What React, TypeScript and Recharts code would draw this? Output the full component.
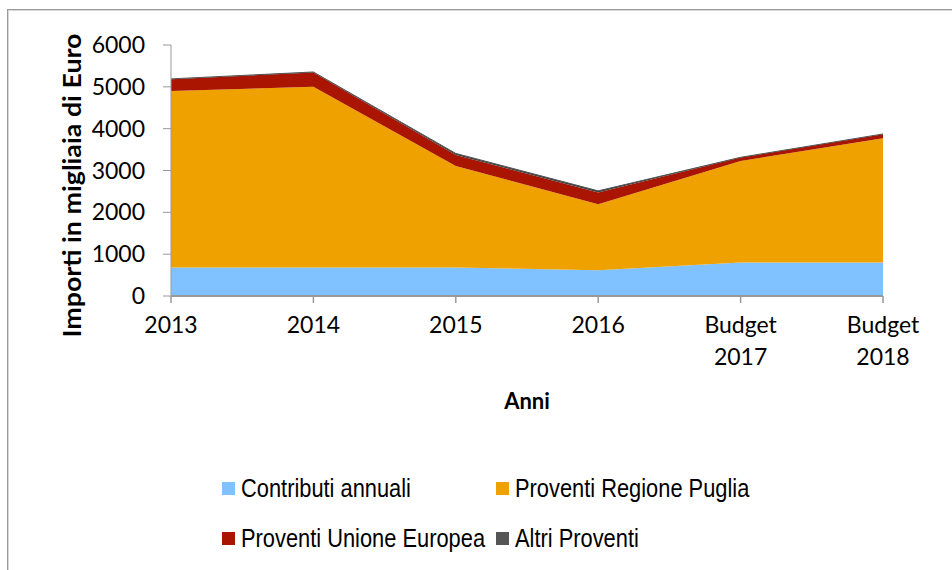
import React from 'react';
import { AreaChart, Area, XAxis, YAxis, Legend } from 'recharts';

const categories = ['2013', '2014', '2015', '2016', 'Budget 2017', 'Budget 2018'];
const contributiAnnuali = [680, 680, 680, 615, 800, 800];
const proventiRegionePuglia = [4220, 4320, 2430, 1580, 2430, 2973];
const proventiUnioneEuropea = [280, 345, 263, 280, 80, 95];
const altriProventi = [10, 10, 35, 38, 5, 5];
const yTicks = [0, 1000, 2000, 3000, 4000, 5000, 6000];

const seriesDefs = [
  { key: 'contributi', name: 'Contributi annuali', color: '#80C1FF' },
  { key: 'regione', name: 'Proventi Regione Puglia', color: '#EFA100' },
  { key: 'ue', name: 'Proventi Unione Europea', color: '#A91500' },
  { key: 'altri', name: 'Altri Proventi', color: '#404040' },
];

const data = categories.map((c, i) => ({
  name: c,
  contributi: contributiAnnuali[i],
  regione: proventiRegionePuglia[i],
  ue: proventiUnioneEuropea[i],
  altri: altriProventi[i],
}));

const AXIS_FONT = "Lato, 'Open Sans', sans-serif";
const LEGEND_FONT = "'Liberation Sans', Arial, sans-serif";

const XTick = (props: any) => {
  const { x, y, payload } = props;
  const parts = String(payload.value).split(' ');
  return (
    <g transform={`translate(${x},${y})`}>
      {parts.map((p: string, i: number) => (
        <text key={i} x={0} y={28 + i * 32} textAnchor="middle" fill="#000" fontFamily={AXIS_FONT} fontSize={23}>
          {p}
        </text>
      ))}
    </g>
  );
};

const YLabel = (props: any) => {
  const { viewBox } = props;
  const cx = viewBox.x + 71;
  const cy = viewBox.y + viewBox.height / 2 + 15;
  return (
    <text x={cx} y={cy} transform={`rotate(-90 ${cx} ${cy})`} textAnchor="middle" dominantBaseline="central"
      fontFamily={AXIS_FONT} fontWeight="bold" fontSize={24} fill="#000" textLength={304} lengthAdjust="spacingAndGlyphs">
      Importi in migliaia di Euro
    </text>
  );
};

const LegendContent = (props: any) => {
  const payload = [...(props.payload || [])].sort(
    (a: any, b: any) =>
      seriesDefs.findIndex((s) => s.key === a.dataKey) - seriesDefs.findIndex((s) => s.key === b.dataKey)
  );
  const colX = [222, 496];
  const rowY = [488, 538];
  return (
    <div style={{ position: 'relative', width: 952, height: 100 }}>
      {payload.map((entry: any, i: number) => (
        <div key={i} style={{
          position: 'absolute', left: colX[i % 2], top: rowY[Math.floor(i / 2)] - 463 - 15,
          height: 30, display: 'flex', alignItems: 'center', whiteSpace: 'nowrap',
        }}>
          <span style={{ display: 'inline-block', width: 13, height: 13, background: entry.color, marginRight: 6, flex: 'none' }} />
          <span style={{
            display: 'inline-block', fontFamily: LEGEND_FONT, fontSize: 26, color: '#000',
            transform: 'scaleX(0.84)', transformOrigin: 'left center', lineHeight: '30px',
          }}>{entry.value}</span>
        </div>
      ))}
    </div>
  );
};

export default function App() {
  return (
    <div style={{ position: 'relative', width: 952, height: 570, overflow: 'hidden', background: '#fff' }}>
      <style>{'body{margin:0;overflow:hidden;}'}</style>
      <div style={{
        position: 'absolute', left: 7, top: 9, width: 960, height: 600,
        borderTop: '1px solid #9a9a9a', borderLeft: '1px solid #9a9a9a',
        boxShadow: 'inset 1px 1px 0 #d8d8d8',
      }} />
      <div style={{ position: 'absolute', left: 0, top: 0 }}>
        <AreaChart width={952} height={570} data={data} margin={{ top: 45, right: 69, left: 0, bottom: 7 }}>
          <XAxis dataKey="name" height={167} tick={<XTick />} tickSize={7} stroke="#999" strokeWidth={2}
            tickLine={{ stroke: '#999', strokeWidth: 1.5 }} interval={0}
            label={{ value: 'Anni', position: 'insideTop', offset: 97, fontFamily: AXIS_FONT, fontSize: 22, fontWeight: 'bold', fill: '#000' }} />
          <YAxis width={171} domain={[0, 6000]} ticks={yTicks} tickSize={8} tickMargin={18} stroke="#999"
            interval={0}
            tick={{ fill: '#000', fontFamily: AXIS_FONT, fontSize: 23 }} label={<YLabel />} />
          <Legend verticalAlign="bottom" content={<LegendContent />} wrapperStyle={{ left: 0, width: 952 }} />
          {seriesDefs.map((s) => (
            <Area key={s.key} type="linear" dataKey={s.key} name={s.name} stackId="1"
              stroke={s.key === 'altri' ? '#555' : 'none'} strokeWidth={s.key === 'altri' ? 1 : 0}
              fill={s.color} fillOpacity={1} isAnimationActive={false} />
          ))}
        </AreaChart>
      </div>
    </div>
  );
}
